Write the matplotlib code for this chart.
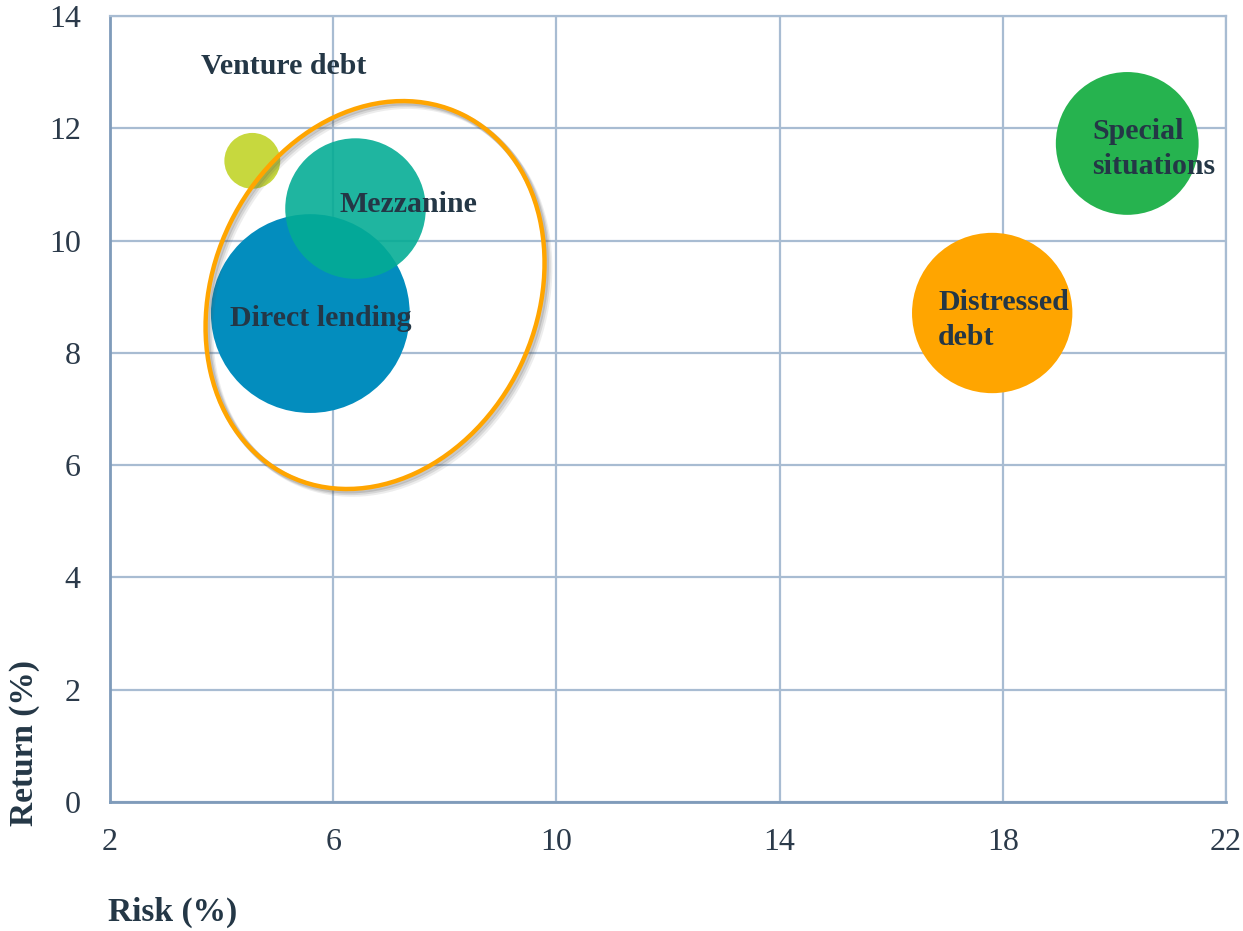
import matplotlib
matplotlib.use("Agg")
import matplotlib.pyplot as plt
from matplotlib.patches import Ellipse

# data
names = ["Venture debt", "Mezzanine", "Direct lending", "Distressed\ndebt", "Special\nsituations"]
risk = [4.55, 6.40, 5.59, 17.81, 20.23]
ret = [11.42, 10.57, 8.70, 8.71, 11.73]
bubble_area = [7.8, 49.4, 98.8, 64.3, 51.0]   # relative bubble size
colors = ["#C3D52D", "#03AC94", "#038DBE", "#FFA500", "#26B34F"]
alphas = [0.92, 0.89, 1.0, 1.0, 1.0]

x_ticks = [2, 6, 10, 14, 18, 22]
y_ticks = [0, 2, 4, 6, 8, 10, 12, 14]

# label anchor points (data coords) and alignment
label_pos = [(5.12, 13.10, "center"), (7.34, 10.64, "center"), (5.78, 8.61, "center"),
             (16.84, 8.58, "left"), (19.60, 11.63, "left")]

plt.rcParams['font.family'] = ['Liberation Serif', 'DejaVu Serif']
text_col = "#243746"
grid_col = "#A8BCD2"

fig = plt.figure(figsize=(12.43, 9.31), dpi=100)
ax = fig.add_axes([110 / 1243, 1 - 802 / 931, 1116 / 1243, 786 / 931])
ax.set_xlim(2, 22)
ax.set_ylim(0, 14)

# draw order: direct lending first, mezzanine on top of it, others after
order = [2, 1, 3, 4, 0]
for i in order:
    ax.scatter(risk[i], ret[i], s=bubble_area[i] * 207.3, color=colors[i],
               alpha=alphas[i], edgecolors="none", zorder=3 + order.index(i) * 0.1)

# highlight ellipse round the core private debt strategies (with a soft shadow)
for k, (dx, dy, a) in enumerate([(0.09, -0.09, 0.10), (0.06, -0.06, 0.15), (0.03, -0.03, 0.2)]):
    ax.add_patch(Ellipse((6.75 + dx, 9.03 + dy), 7.15, 5.79, angle=64, fill=False,
                         edgecolor="#555555", linewidth=4, alpha=a, zorder=4))
ax.add_patch(Ellipse((6.75, 9.03), 7.15, 5.79, angle=64, fill=False,
                     edgecolor="#FFA500", linewidth=3.2, zorder=4.5))

for name, (lx, ly, ha) in zip(names, label_pos):
    ax.text(lx, ly, name, ha=ha, va="center", fontsize=21.5, fontweight="bold",
            color=text_col, linespacing=1.4, zorder=6)

ax.set_xticks(x_ticks)
ax.set_yticks(y_ticks)
ax.tick_params(axis="both", length=0, labelsize=23, labelcolor="#2B3A4A")
ax.tick_params(axis="x", pad=19)
ax.tick_params(axis="y", pad=21)
ax.grid(True, color=grid_col, linewidth=1.6, zorder=0)
ax.set_axisbelow(True)
for side in ["top", "right"]:
    ax.spines[side].set_color(grid_col)
    ax.spines[side].set_linewidth(1.6)
for side in ["left", "bottom"]:
    ax.spines[side].set_color("#7F9BBA")
    ax.spines[side].set_linewidth(2)

fig.text(108 / 1243, 1 - 912 / 931, "Risk (%)", ha="left", va="center",
         fontsize=24, fontweight="bold", color=text_col)
fig.text(25 / 1243, 1 - 826 / 931, "Return (%)", ha="center", va="bottom", rotation=90,
         fontsize=24, fontweight="bold", color=text_col)

fig.savefig("out.png", dpi=100)
